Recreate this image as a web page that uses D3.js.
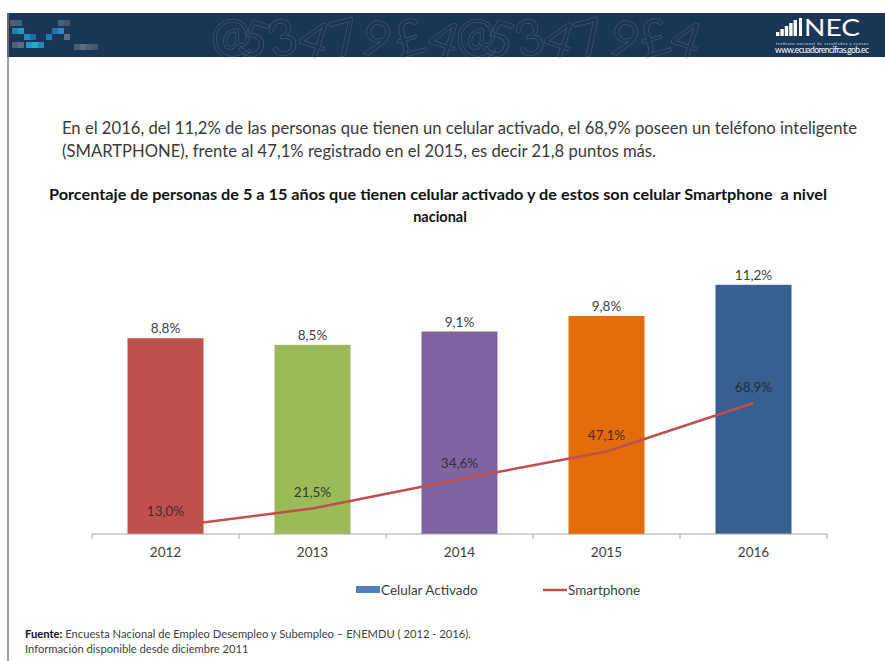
<!DOCTYPE html>
<html>
<head>
<meta charset="utf-8">
<script src="https://d3js.org/d3.v7.min.js"></script>
<style>
  body { margin: 0; background: #fff; }
  svg text { font-family: Lato, "Open Sans", sans-serif; white-space: pre; }
</style>
</head>
<body>
<svg id="chart" width="885" height="661"></svg>
<script>

// data
const years = ["2012", "2013", "2014", "2015", "2016"];
const activado = [8.8, 8.5, 9.1, 9.8, 11.2];
const smartphone = [13.0, 21.5, 34.6, 47.1, 68.9];
const barColors = ["#C0504D", "#9BBB59", "#8064A2", "#E46C0A", "#375F8F"];

const intro = [
  "En el 2016, del 11,2% de las personas que tienen un celular activado, el 68,9% poseen un teléfono inteligente",
  "(SMARTPHONE), frente al 47,1% registrado en el 2015, es decir 21,8 puntos más."
];
const titleLines = [
  "Porcentaje de personas de 5 a 15 años que tienen celular activado y de estos son celular Smartphone  a nivel",
  "nacional"
];

const fmt = v => d3.format(".1f")(v).replace(".", ",") + "%";

const svg = d3.select("#chart");

// banner
const banner = svg.append("g");
banner.append("rect").attr("x", 7).attr("y", 13).attr("width", 878).attr("height", 44).attr("fill", "#1A3657");

// pixel blocks on the left
const blocks = [[10,20,"#5a6c86"],[16,20,"#4b6a8e"],[12,28,"#2f8fc0"],[18,28,"#1fb5d8"],[24,34,"#2a9fd0"],[30,34,"#1c7fb3"],[26,42,"#1fb5d8"],[32,42,"#37c4e0"],[38,42,"#2a9fd0"],[12,42,"#5b6b80"],[18,42,"#6d7a8d"],
                [52,28,"#2a7fc0"],[58,28,"#3a9ae0"],[58,20,"#5b6b80"],[64,20,"#4e5f77"],[46,34,"#1f8ed0"],[64,34,"#6d7a8d"],[74,44,"#57667d"],[80,44,"#6d7a8d"],[86,44,"#596b82"],[92,44,"#4e5f77"]];
banner.selectAll("rect.blk").data(blocks).join("rect").attr("class", "blk")
  .attr("x", d => d[0]).attr("y", d => d[1]).attr("width", 6).attr("height", 6)
  .attr("fill", d => d[2]).attr("opacity", 0.8);

// outlined digits
const digits = [[210,"@"],[240,"5"],[268,"3"],[300,"4"],[330,"7"],[362,"9"],[395,"£"],[430,"4"],[455,"@"],[485,"5"],[515,"3"],[545,"4"],[575,"7"],[610,"9"],[640,"£"],[672,"4"]];
banner.selectAll("text.dg").data(digits).join("text").attr("class", "dg")
  .attr("x", d => d[0]).attr("y", 56).text(d => d[1])
  .attr("font-size", 50).attr("fill", "none").attr("stroke", "#8b9bb0").attr("stroke-width", 0.6).attr("opacity", 0.35)
  .attr("transform", (d, i) => `rotate(${i % 2 ? 18 : -15} ${d[0] + 12} 38)`);

// logo
const logoBars = [4, 7, 10, 13, 16];
banner.selectAll("rect.lb").data(logoBars).join("rect").attr("class", "lb")
  .attr("x", (d, i) => 776 + i * 4.4).attr("y", d => 36 - d).attr("width", 3.4).attr("height", d => d).attr("fill", "#fff");
banner.append("rect").attr("x", 799).attr("y", 18).attr("width", 3).attr("height", 18).attr("fill", "#fff");
banner.append("text").attr("x", 804).attr("y", 36).text("NEC").attr("font-size", 24).attr("fill", "#fff")
  .attr("font-family", "'Liberation Sans Narrow', 'Liberation Sans', sans-serif")
  .attr("textLength", 56).attr("lengthAdjust", "spacingAndGlyphs");
banner.append("text").attr("x", 776).attr("y", 44.5).text("Instituto nacional de estadística y censos").attr("font-size", 3.5).attr("fill", "#dfe6ee").attr("textLength", 92);
banner.append("text").attr("x", 775).attr("y", 53).text("www.ecuadorencifras.gob.ec").attr("font-size", 8.5).attr("fill", "#fff").attr("textLength", 94);

// left border
svg.append("line").attr("x1", 8).attr("x2", 8).attr("y1", 13).attr("y2", 661).attr("stroke", "#7f7f7f").attr("stroke-width", 1.5);

// intro paragraph
svg.selectAll("text.intro").data(intro).join("text").attr("class", "intro")
  .attr("x", 62).attr("y", (d, i) => 134 + i * 22.5)
  .attr("font-size", 16.5).attr("fill", "#3a3a3a")
  .attr("textLength", (d, i) => i === 0 ? 795 : 594).attr("lengthAdjust", "spacingAndGlyphs")
  .text(d => d);

// title
svg.append("text").attr("x", 49).attr("y", 200).attr("font-size", 14.5).attr("font-weight", "bold").attr("fill", "#111")
  .attr("textLength", 778).attr("lengthAdjust", "spacingAndGlyphs").text(titleLines[0]);
svg.append("text").attr("x", 440).attr("y", 222).attr("text-anchor", "middle").attr("font-size", 14.5).attr("font-weight", "bold").attr("fill", "#111")
  .text(titleLines[1]);

// scales
const x = d3.scaleBand().domain(years).range([92, 827]).paddingInner(0.483).paddingOuter(0.2415);
const y = d3.scaleLinear().domain([0, 12]).range([534, 267]);
const y2 = d3.scaleLinear().domain([10, 130]).range([534, 267]);

const plot = svg.append("g");

// bars
const rows = years.map((yr, i) => ({ yr, a: activado[i], s: smartphone[i], c: barColors[i] }));
plot.selectAll("rect.bar").data(rows).join("rect").attr("class", "bar")
  .attr("x", d => x(d.yr)).attr("width", x.bandwidth())
  .attr("y", d => y(d.a)).attr("height", d => y(0) - y(d.a))
  .attr("fill", d => d.c);

plot.selectAll("text.barlab").data(rows).join("text").attr("class", "barlab")
  .attr("x", d => x(d.yr) + x.bandwidth() / 2).attr("y", d => y(d.a) - 5)
  .attr("text-anchor", "middle").attr("font-size", 13.5).attr("fill", "#404040")
  .text(d => fmt(d.a));

// axis
const axis = plot.append("g").attr("transform", `translate(0,${y(0)})`);
axis.append("line").attr("x1", 92).attr("x2", 827).attr("stroke", "#a6a6a6");
const bounds = years.map(yr => x(yr) - x.step() * x.paddingInner() / 2).concat([827]);
bounds[0] = 92;
axis.selectAll("line.tk").data(bounds).join("line").attr("class", "tk")
  .attr("x1", d => d).attr("x2", d => d).attr("y1", 0).attr("y2", 5).attr("stroke", "#a6a6a6");
axis.selectAll("text.yr").data(years).join("text").attr("class", "yr")
  .attr("x", d => x(d) + x.bandwidth() / 2).attr("y", 23)
  .attr("text-anchor", "middle").attr("font-size", 13.5).attr("fill", "#404040")
  .text(d => d);

// smartphone line
const line = d3.line().x(d => x(d.yr) + x.bandwidth() / 2).y(d => y2(d.s));
plot.append("path").datum(rows).attr("d", line)
  .attr("fill", "none").attr("stroke", "#C0504D").attr("stroke-width", 2.5);

plot.selectAll("text.linelab").data(rows).join("text").attr("class", "linelab")
  .attr("x", d => x(d.yr) + x.bandwidth() / 2).attr("y", d => y2(d.s) - 11)
  .attr("text-anchor", "middle").attr("font-size", 13.5).attr("fill", "#262626").attr("opacity", 0.85)
  .text(d => fmt(d.s));

// legend
const legend = svg.append("g").attr("transform", "translate(0,590)");
legend.append("rect").attr("x", 356).attr("y", -4).attr("width", 24).attr("height", 7).attr("fill", "#4F81BD");
legend.append("text").attr("x", 381).attr("y", 4.5).attr("font-size", 13.5).attr("fill", "#404040").text("Celular Activado");
legend.append("line").attr("x1", 543).attr("x2", 567).attr("y1", 0).attr("y2", 0).attr("stroke", "#C0504D").attr("stroke-width", 2.5);
legend.append("text").attr("x", 568).attr("y", 4.5).attr("font-size", 13.5).attr("fill", "#404040").text("Smartphone");

// footer
const foot = svg.append("text").attr("x", 25).attr("y", 638).attr("font-size", 11.2).attr("fill", "#404040");
foot.append("tspan").attr("font-weight", "bold").attr("fill", "#111").text("Fuente:");
foot.append("tspan").text(" Encuesta Nacional de Empleo Desempleo y Subempleo – ENEMDU ( 2012 - 2016).");
svg.append("text").attr("x", 25).attr("y", 653).attr("font-size", 11.2).attr("fill", "#404040").text("Información disponible desde diciembre 2011");

</script>
</body>
</html>
